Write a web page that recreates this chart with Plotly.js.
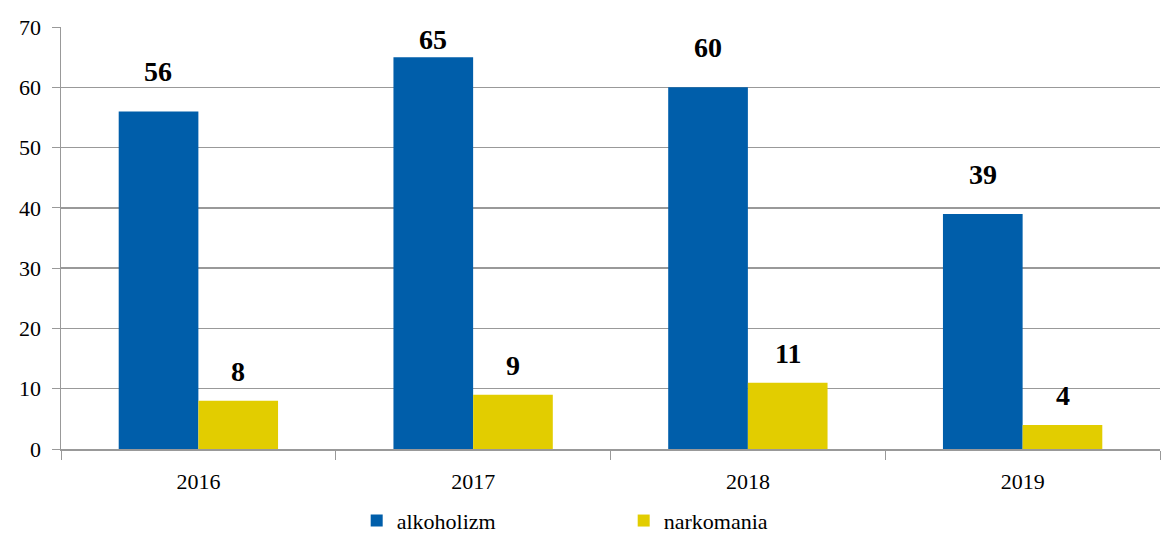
<!DOCTYPE html>
<html><head><meta charset="utf-8">
<script src="https://cdn.plot.ly/plotly-3.0.1.min.js"></script>
<style>body{margin:0;background:#fff}#c{width:1168px;height:537px}</style>
</head><body><div id="c"></div>
<script>
const years = ['2016','2017','2018','2019'];
const alkoholizm = [56, 65, 60, 39];
const narkomania = [8, 9, 11, 4];
const seriesNames = ['alkoholizm', 'narkomania'];

const serif = 'Liberation Serif, serif';
const traces = [
  {type:'bar', name:seriesNames[0], x:years, y:alkoholizm,
   marker:{color:'#005eaa'}, hoverinfo:'none'},
  {type:'bar', name:seriesNames[1], x:years, y:narkomania,
   marker:{color:'#e2cd00'}, hoverinfo:'none'}
];

const annotations = [];
[alkoholizm, narkomania].forEach((arr, si) => {
  arr.forEach((v, i) => {
    annotations.push({
      x: i, y: v, xref:'x', yref:'y',
      xshift: si === 0 ? -40 : 40,
      yshift: v > 62 ? 0 : (v > 20 ? 22 : 12),
      yanchor:'bottom', showarrow:false,
      text:'<b>' + v + '</b>',
      font:{family:serif, size:28, color:'#000'}
    });
  });
});

const layout = {
  width:1168, height:537,
  font:{family:serif, size:22, color:'#000'},
  margin:{l:61, r:8, t:27, b:88, autoexpand:false},
  paper_bgcolor:'#fff', plot_bgcolor:'#fff',
  barmode:'group', bargap:0.42, bargroupgap:0,
  showlegend:true,
  legend:{orientation:'h', x:0.512, xanchor:'center', y:-0.17, yanchor:'middle',
          font:{family:serif, size:22, color:'#000'}, entrywidth:222, itemwidth:30},
  xaxis:{type:'category', range:[-0.5,3.5], showline:true, linecolor:'#999', linewidth:1.5,
         ticks:'outside', tickson:'boundaries', ticklen:9, tickcolor:'#999', ticklabelstandoff:12,
         tickfont:{family:serif, size:22, color:'#000'}, showgrid:false, fixedrange:true},
  yaxis:{range:[0,70], dtick:10, showline:true, linecolor:'#999', linewidth:1.5,
         ticks:'outside', ticklen:8, tickcolor:'#999', gridcolor:'#999', gridwidth:1.5,
         ticklabelstandoff:6,
         zeroline:false, tickfont:{family:serif, size:22, color:'#000'}, fixedrange:true},
  annotations: annotations
};
Plotly.newPlot('c', traces, layout, {displayModeBar:false, staticPlot:true});
</script></body></html>
